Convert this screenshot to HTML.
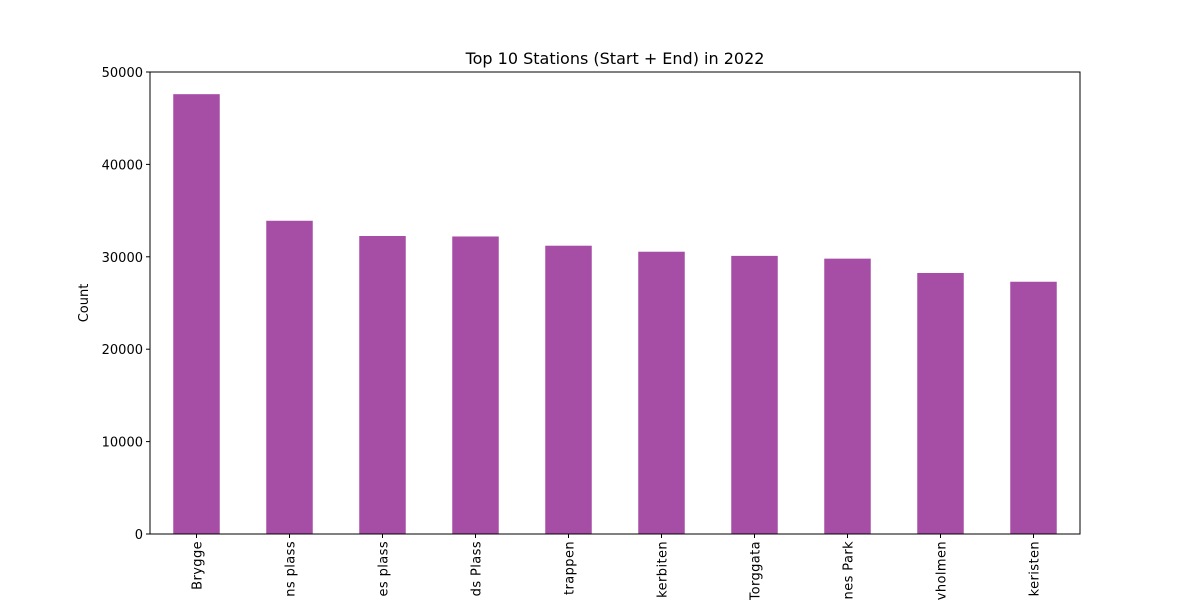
<!DOCTYPE html>
<html><head><meta charset="utf-8"><style>
html,body{margin:0;background:#fff;width:1200px;height:600px;overflow:hidden;}
svg{display:block;}
svg text{font-family:"DejaVu Sans","Liberation Sans",sans-serif;}
</style></head><body>
<svg id="chart" width="1200" height="600">
<rect width="1200" height="600" fill="#fff"/>
<text x="615" y="64" font-size="16" text-anchor="middle">Top 10 Stations (Start + End) in 2022</text>
<text transform="translate(88,303) rotate(-90)" font-size="13" text-anchor="middle">Count</text>
<g id="bars"></g><g id="yt"></g><g id="xt"></g>
<rect x="150" y="72" width="930" height="462" fill="none" stroke="#000" stroke-width="1"/>
</svg>
<script>
const categories=["Brygge","ns plass","es plass","ds Plass","trappen","kerbiten","Torggata","nes Park","vholmen","keristen"];
const counts=[47600,33900,32250,32200,31200,30550,30100,29800,28250,27300];
const yTicks=[0,10000,20000,30000,40000,50000];
const ns="http://www.w3.org/2000/svg";
const L=150,R=1080,T=72,B=534,ymax=50000;
const y=v=>B-(v/ymax)*(B-T);
const step=(R-L)/categories.length;
const x=i=>L+step*(i+0.5);
const bw=step*0.5;
const bars=document.getElementById('bars'),yt=document.getElementById('yt'),xt=document.getElementById('xt');
function mk(t,a){const e=document.createElementNS(ns,t);for(const k in a)e.setAttribute(k,a[k]);return e;}
counts.forEach((v,i)=>{
 const r=mk('rect',{x:x(i)-bw/2,y:y(v),width:bw,height:B-y(v),fill:'#a64ea6'});
 
 
 bars.appendChild(r);
 const tk=mk('line',{x1:x(i),x2:x(i),y1:B,y2:B+4,stroke:'#000'});
 
 
 xt.appendChild(tk);
 const tx=mk('text',{transform:`translate(${x(i)+5},${B+7}) rotate(-90)`,'font-size':13,'text-anchor':'end','letter-spacing':'0.4'});
 tx.textContent=categories[i];
 
 
 xt.appendChild(tx);
});
yTicks.forEach(v=>{
 const tk=mk('line',{x1:L-4,x2:L,y1:y(v),y2:y(v),stroke:'#000'});
 
 
 yt.appendChild(tk);
 const tx=mk('text',{x:L-7,y:y(v)+5,'font-size':13,'text-anchor':'end'});
 tx.textContent=v;
 
 
 yt.appendChild(tx);
});
</script>
</body></html>
